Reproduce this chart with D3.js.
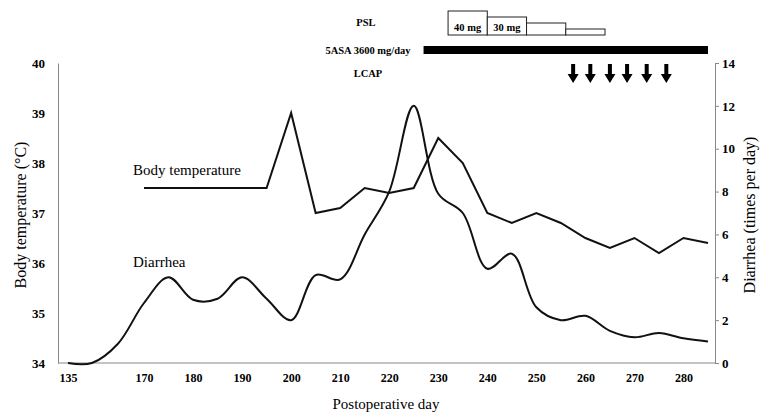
<!DOCTYPE html>
<html>
<head>
<meta charset="utf-8">
<script src="https://cdn.jsdelivr.net/npm/d3@7"></script>
<style>
  body { margin: 0; background: #fff; }
  text { font-family: "Liberation Serif", "Times New Roman", serif; fill: #000; }
</style>
</head>
<body>
<script>
// data
var tempDays = [170, 175, 180, 185, 190, 195, 200, 205, 210, 215, 220, 225, 230, 235, 240, 245, 250, 255, 260, 265, 270, 275, 280, 285];
var tempValues = [37.5, 37.5, 37.5, 37.5, 37.5, 37.5, 39.0, 37.0, 37.1, 37.5, 37.4, 37.5, 38.5, 38.0, 37.0, 36.8, 37.0, 36.8, 36.5, 36.3, 36.5, 36.2, 36.5, 36.4];
var diarDays = [135, 146, 158, 170, 175, 180, 185, 190, 195, 200, 205, 210, 215, 220, 225, 230, 235, 240, 245, 250, 255, 260, 265, 270, 275, 280, 285];
var diarValues = [0, 0, 0.9, 2.8, 4.0, 2.95, 3.0, 4.0, 3.0, 2.0, 4.1, 3.9, 6.0, 8.0, 12.0, 7.9, 7.0, 4.4, 5.1, 2.6, 2.0, 2.2, 1.5, 1.2, 1.4, 1.15, 1.0];
var dayTicks = [135, 170, 180, 190, 200, 210, 220, 230, 240, 250, 260, 270, 280];
var tempTicks = [34, 35, 36, 37, 38, 39, 40];
var diarTicks = [0, 2, 4, 6, 8, 10, 12, 14];
var pslStart = [232, 240, 248, 256];
var pslEnd = [240, 248, 256, 264];
var pslDose = [40, 30, 20, 10];
var pslLabels = ["40 mg", "30 mg", "", ""];
var asaDays = [227, 285];
var lcapDays = [257.5, 261, 265, 268.5, 272.5, 276.5];

var W = 761, H = 416;
var pL = 58, pR = 715, pT = 63, pB = 363;

var svg = d3.select("body")
  .append("svg")
    .attr("width", W)
    .attr("height", H)

// broken x axis: 135 then 170..285
var x = d3.scaleLinear().domain([135, 170, 285]).range([68, 144, 708])
var yT = d3.scaleLinear().domain([34, 40]).range([pB, pT])
var yD = d3.scaleLinear().domain([0, 14]).range([pB, pT])
var hDose = d3.scaleLinear().domain([0, 40]).range([0, 24])

// axes
var gL = svg.append("g").attr("transform", "translate(" + pL + ",0)")
  .call(d3.axisLeft(yT).tickValues(tempTicks).tickFormat(d3.format("d")).tickSize(0).tickPadding(13))
gL.select(".domain").attr("stroke", "#888")
gL.selectAll("text").style("font-size", "13px").style("font-weight", "bold").style("font-family", "Liberation Serif")

var gR = svg.append("g").attr("transform", "translate(" + pR + ",0)")
  .call(d3.axisRight(yD).tickValues(diarTicks).tickFormat(d3.format("d")).tickSize(4).tickPadding(3))
gR.select(".domain").attr("stroke", "#888")
gR.selectAll(".tick line").attr("stroke", "#888")
gR.selectAll("text").style("font-size", "13px").style("font-weight", "bold").style("font-family", "Liberation Serif")

var gB = svg.append("g").attr("transform", "translate(0," + pB + ")")
  .call(d3.axisBottom(x).tickValues(dayTicks).tickFormat(d3.format("d")).tickSize(0).tickPadding(10))
gB.select(".domain").remove()
gB.selectAll("text").style("font-size", "12px").style("font-weight", "bold").style("font-family", "Liberation Serif")
svg.append("line").attr("x1", pL).attr("x2", pR).attr("y1", pB).attr("y2", pB).attr("stroke", "#888")

// axis titles
svg.append("text").attr("transform", "translate(26,215) rotate(-90)")
  .attr("text-anchor", "middle").style("font-size", "16px").text("Body temperature (°C)")
svg.append("text").attr("transform", "translate(755,215) rotate(-90)")
  .attr("text-anchor", "middle").style("font-size", "16px").text("Diarrhea (times per day)")
svg.append("text").attr("x", 386).attr("y", 409).attr("text-anchor", "middle")
  .style("font-size", "15px").text("Postoperative day")

// lines
var tempLine = d3.line().x(function(d, i) { return x(tempDays[i]) }).y(function(d) { return yT(d) })
svg.append("path").datum(tempValues).attr("d", tempLine)
  .attr("fill", "none").attr("stroke", "#111").attr("stroke-width", 2)

var diarLine = d3.line().curve(d3.curveCatmullRom.alpha(0.5))
  .x(function(d, i) { return x(diarDays[i]) }).y(function(d) { return yD(d) })
svg.append("path").datum(diarValues).attr("d", diarLine)
  .attr("fill", "none").attr("stroke", "#111").attr("stroke-width", 2)

svg.append("text").attr("x", 133).attr("y", 175).style("font-size", "15px").text("Body temperature")
svg.append("text").attr("x", 133).attr("y", 267).style("font-size", "15px").text("Diarrhea")

// treatment annotations
svg.append("text").attr("x", 366).attr("y", 26).attr("text-anchor", "middle")
  .style("font-size", "10.5px").style("font-weight", "bold").text("PSL")
svg.append("text").attr("x", 368).attr("y", 54).attr("text-anchor", "middle")
  .style("font-size", "10.5px").style("font-weight", "bold").text("5ASA 3600 mg/day")
svg.append("text").attr("x", 368).attr("y", 77).attr("text-anchor", "middle")
  .style("font-size", "10.5px").style("font-weight", "bold").text("LCAP")

var pslBase = 35
svg.selectAll(".psl").data(pslDose).enter().append("rect")
  .attr("x", function(d, i) { return x(pslStart[i]) })
  .attr("width", function(d, i) { return x(pslEnd[i]) - x(pslStart[i]) })
  .attr("y", function(d) { return pslBase - hDose(d) })
  .attr("height", function(d) { return hDose(d) })
  .attr("fill", "#fff").attr("stroke", "#222").attr("stroke-width", 1)
svg.selectAll(".psllab").data(pslLabels).enter().append("text")
  .attr("x", function(d, i) { return (x(pslStart[i]) + x(pslEnd[i])) / 2 })
  .attr("y", 31).attr("text-anchor", "middle")
  .style("font-size", "10.5px").style("font-weight", "bold").text(function(d) { return d })

svg.append("rect").attr("x", x(asaDays[0])).attr("width", x(asaDays[1]) - x(asaDays[0]))
  .attr("y", 46).attr("height", 8).attr("fill", "#000")

svg.selectAll(".lcap").data(lcapDays).enter().append("path")
  .attr("transform", function(d) { return "translate(" + x(d) + ",0)" })
  .attr("d", "M-2,64 L2,64 L2,74 L5.5,74 L0,83 L-5.5,74 L-2,74 Z")
  .attr("fill", "#000")
</script>
</body>
</html>
